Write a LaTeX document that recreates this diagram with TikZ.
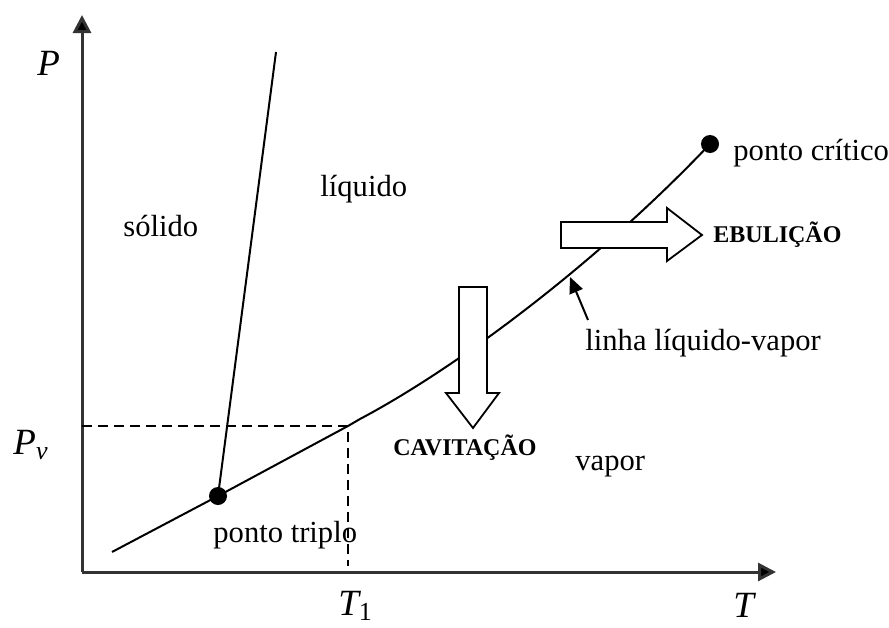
\documentclass[tikz,border=0pt]{standalone}
\usepackage{fontspec}
\setmainfont{Liberation Serif}
\usetikzlibrary{arrows.meta}
\begin{document}
\begin{tikzpicture}[x=0.5pt,y=-0.5pt,
  axis/.style={line width=1.5pt,draw=black!80,-{Triangle[length=9pt,width=9pt,fill=black]}},
  curve/.style={line width=1pt},
  guide/.style={line width=1pt,dash pattern=on 5pt off 3pt},
  dot/.style={circle,fill=black,inner sep=0pt,minimum size=9pt},
  lbl/.style={inner sep=0pt,font=\fontsize{15.3}{18}\selectfont},
  blbl/.style={inner sep=0pt,font=\fontsize{12}{14}\selectfont\bfseries},
  mlbl/.style={inner sep=0pt,font=\fontsize{18.5}{20}\selectfont\itshape},
  hollow/.style={line width=0.9pt,fill=white,draw=black}]
\useasboundingbox (0,0) rectangle (889,627);
% axes
\coordinate (O) at (82,572);
\coordinate (Ptop) at (82,15);
\coordinate (Tend) at (776,572);
\draw[axis] (O) -- (Ptop);
\draw[axis] (O) -- (Tend);
% points
\node[dot] (tp) at (218,496) {};
\node[dot] (cp) at (710,144) {};
\coordinate (lvstart) at (112,552);
\coordinate (pvc) at (348,426);
\coordinate (sltop) at (276,52);
\coordinate (pvaxis) at (82,426);
\coordinate (t1axis) at (348,566);
% curves
\draw[curve] (tp.center) -- (sltop);
\draw[curve] (lvstart) -- (tp.center) -- (pvc) -- (360,419) .. controls (460,366) and (600,260) .. (cp.center);
\draw[guide] (pvaxis) -- (pvc) -- (t1axis);
% hollow arrows
\draw[hollow] (459,287) -- (487,287) -- (487,393) -- (499,393) -- (473,428) -- (446,393) -- (459,393) -- cycle;
\draw[hollow] (561,222) -- (667,222) -- (667,208) -- (702,235) -- (667,261) -- (667,248) -- (561,248) -- cycle;
% labels
\node[mlbl,anchor=base west] (Plbl) at (37,75) {P};
\node[mlbl,anchor=base west] (Pvlbl) at (13,454) {P\raisebox{-0.3ex}{\fontsize{13}{14}\selectfont v}};
\node[mlbl,anchor=base west] (T1lbl) at (338,615) {T\raisebox{-0.3ex}{\fontsize{13}{14}\selectfont\upshape 1}};
\node[mlbl,anchor=base west] (Tlbl) at (733,617) {T};
\node[lbl,anchor=base west] (solido) at (123,236) {sólido};
\node[lbl,anchor=base west] (liquido) at (320,196) {líquido};
\node[lbl,anchor=base west] (triplo) at (213,542) {ponto triplo};
\node[lbl,anchor=base west] (critico) at (733,160) {ponto crítico};
\node[lbl,anchor=base west] (vapor) at (575,470) {vapor};
\node[lbl,anchor=base west] (linha) at (585,350) {linha líquido-vapor};
\node[blbl,anchor=base west] (ebul) at (713,242) {EBULIÇÃO};
\node[blbl,anchor=base west] (cavit) at (393,455) {CAVITAÇÃO};
% pointer
\coordinate (ptip) at (570,277);
\draw[line width=1pt,-{Triangle[length=8pt,width=7pt]}] (588,320) -- (ptip);
\end{tikzpicture}
\end{document}
